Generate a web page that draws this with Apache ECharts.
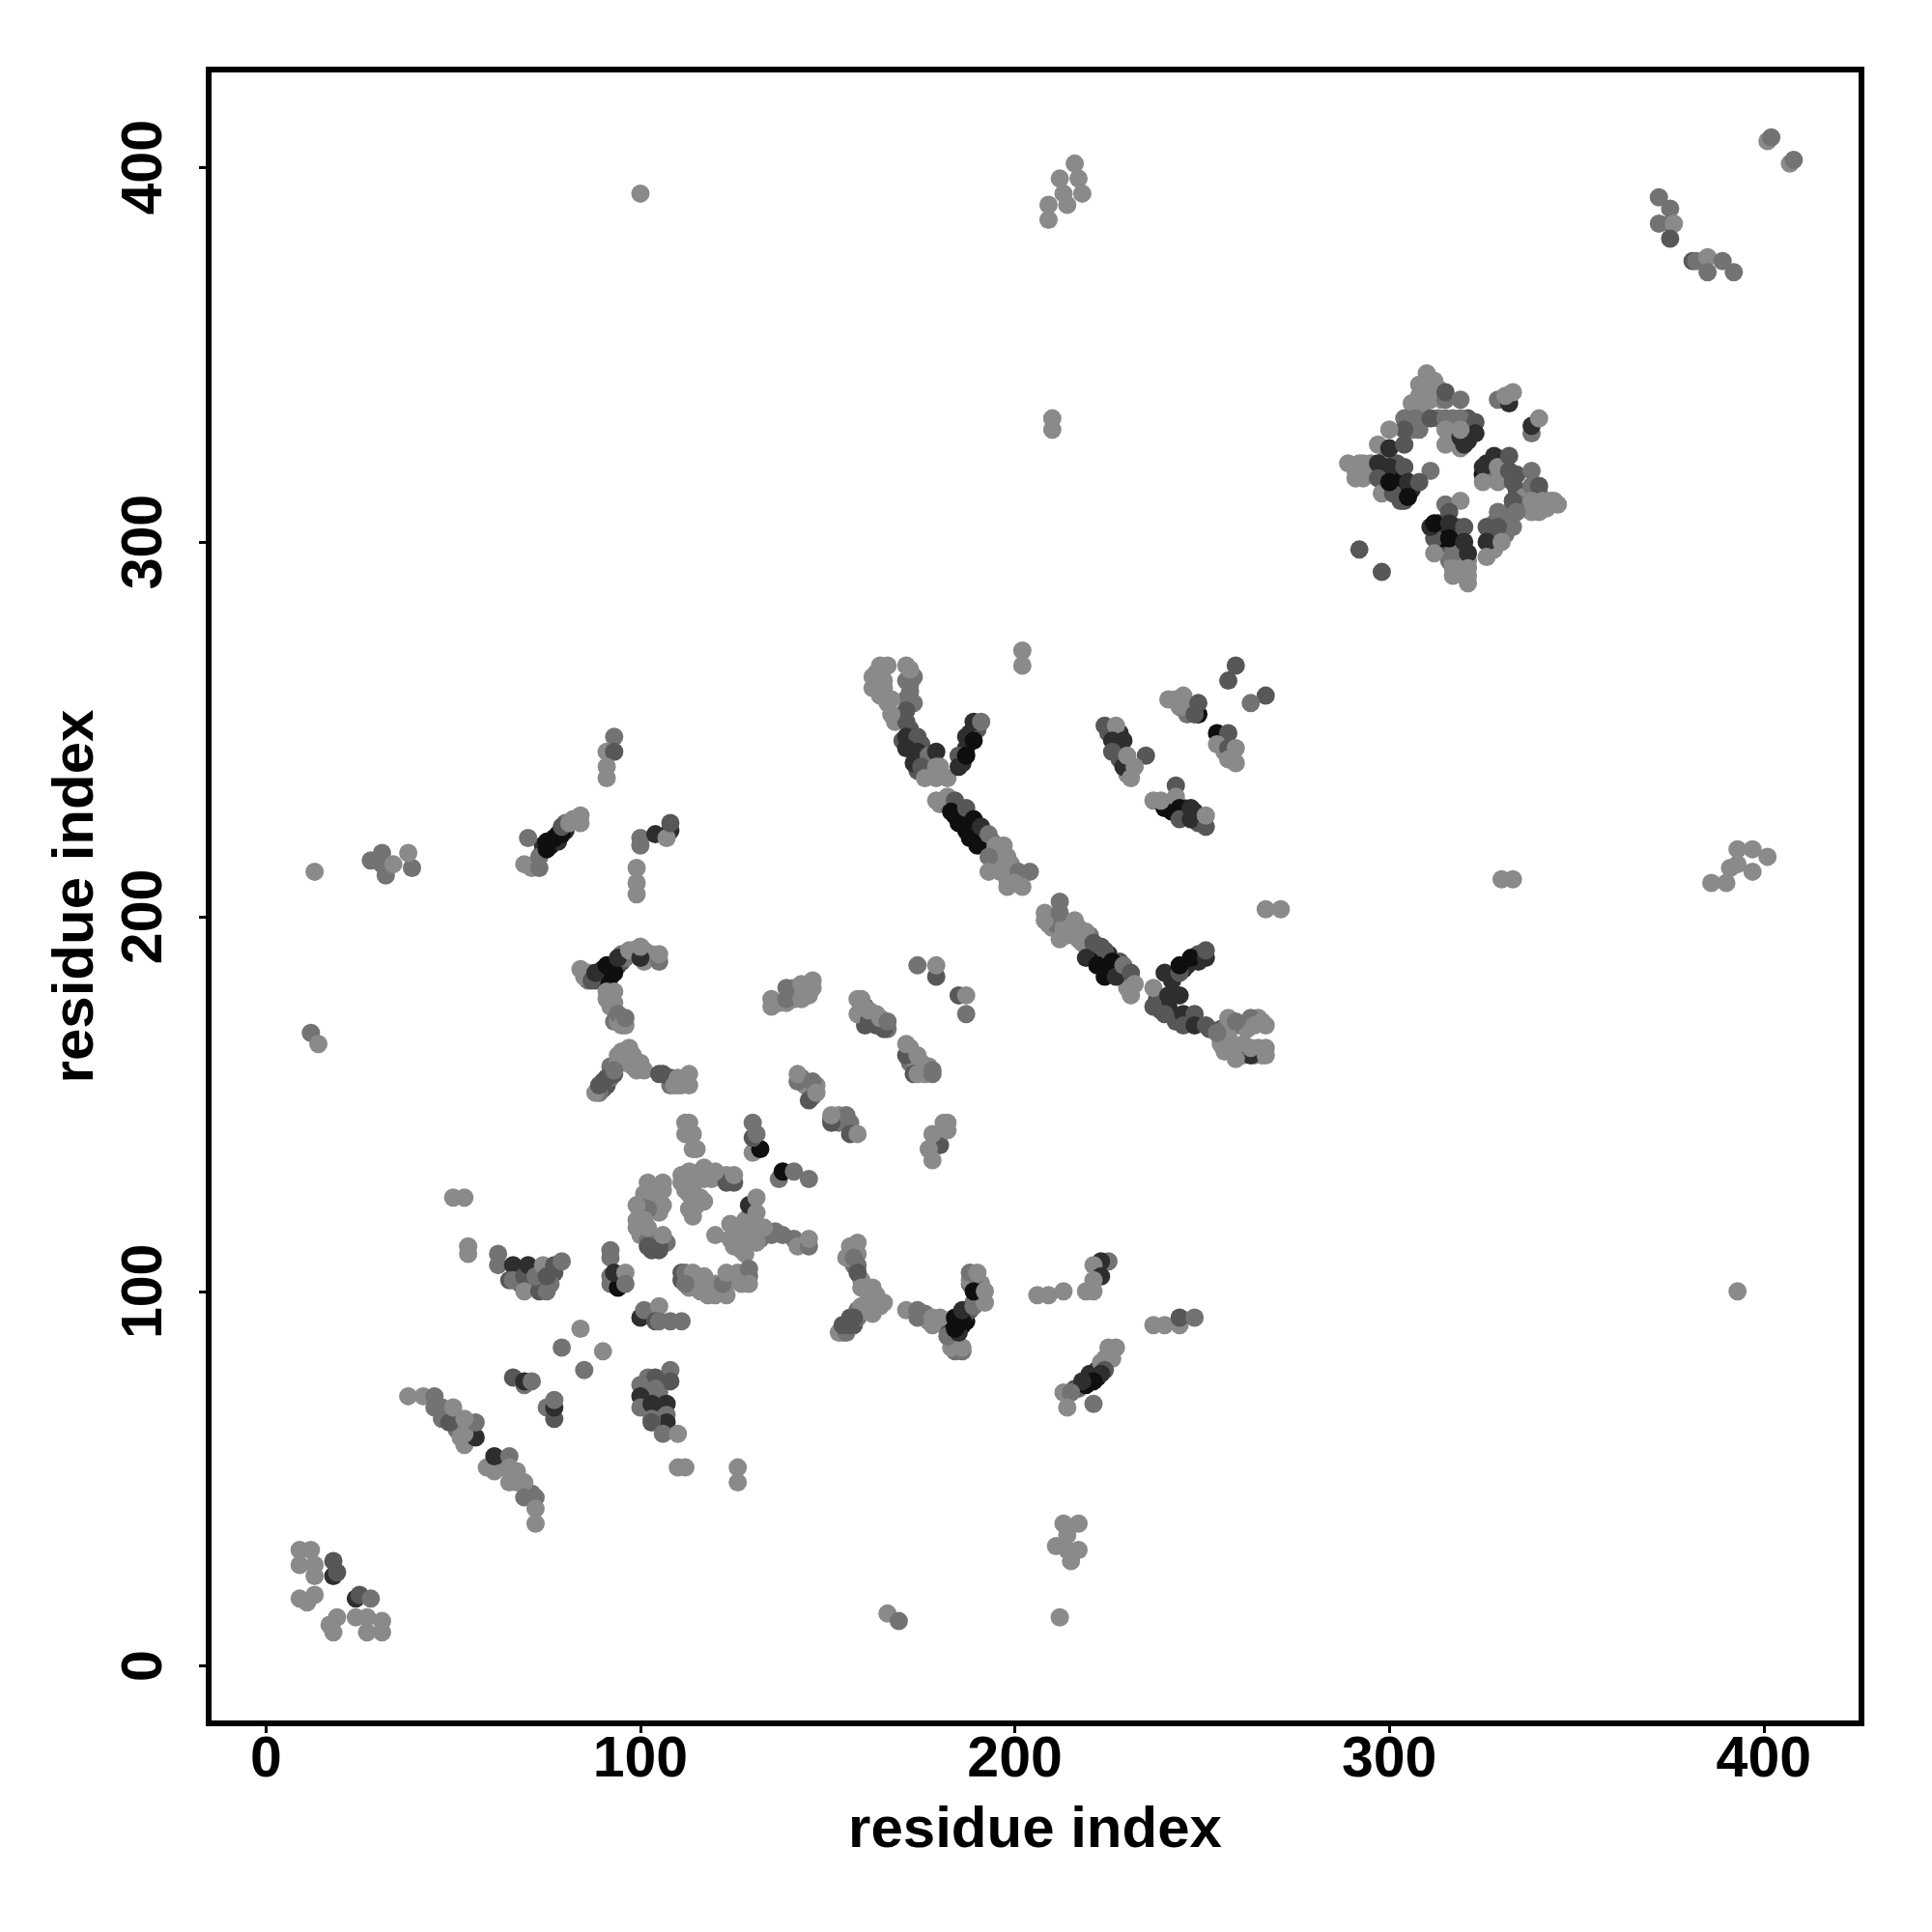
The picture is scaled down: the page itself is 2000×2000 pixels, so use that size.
<!DOCTYPE html>
<html><head><meta charset="utf-8">
<style>html,body{margin:0;padding:0;background:#fff}#c{width:2000px;height:2000px}</style>
<script src="https://cdn.jsdelivr.net/npm/echarts@6/dist/echarts.min.js"></script>
</head><body><div id="c"></div>
<script>
// each contact: [residue i, residue j, darkness level 1..5]
const tickValues=[0,100,200,300,400];
const axisTitle="residue index";
const nTermPatch=[[9,31,1],[12,31,1],[9,27,1],[13,27,1],[13,24,1],[18,28,3],[18,24,4],[19,25,3],[9,18,1],[11,17,1],[13,19,1],[24,13,1],[24,18,4],[25,19,3],[28,18,2],[19,13,1],[17,11,1],[18,9,1],[27,13,1],[31,12,1],[27,9,1],[31,9,1]];
const strip40to72=[[47,69,2],[47,66,2],[51,63,2],[54,63,2],[63,53,1],[63,55,3],[67,52,1],[67,49,1],[71,46,2],[38,72,1],[42,72,1],[45,72,2],[45,69,2],[49,65,3],[50,69,1],[53,59,1],[52,61,1],[56,61,4],[53,62,1],[56,65,2],[53,66,1],[61,52,1],[59,53,1],[61,56,4],[65,49,1],[65,56,2],[65,53,1],[69,49,1],[69,45,2],[72,45,2],[72,42,1],[72,38,1]];
const patch66to77=[[66,77,3],[69,75,2],[69,76,4],[71,76,2],[75,69,2],[77,66,3],[77,69,4],[77,71,2],[84,90,1],[79,85,2],[90,84,1],[85,79,2]];
const patch62to79=[[67,105,4],[68,102,3],[71,102,3],[70,101,2],[71,105,3],[73,105,2],[77,105,3],[76,102,2],[62,110,2],[62,107,2],[66,107,4],[65,103,3],[66,103,2],[69,104,3],[70,107,4],[69,100,1],[73,100,3],[75,100,2],[72,104,2],[74,107,1],[75,104,3],[77,107,3],[79,108,2],[50,125,1],[53,125,1],[54,112,1],[54,110,1],[110,53,1],[112,53,1],[126,53,1],[126,49,1]];
const patch100to110=[[101,72,3],[103,74,3],[105,73,2],[106,76,2],[102,77,2],[105,70,3],[105,66,2],[104,69,3],[108,79,2],[108,76,3],[104,77,3],[100,75,2],[104,74,2],[100,72,4],[100,69,2],[103,70,4],[107,70,4],[107,67,2],[107,65,4],[103,66,2],[103,65,3],[106,62,2],[110,62,1]];
const patch92to111=[[92,111,2],[92,109,2],[92,102,2],[92,104,2],[94,101,5],[93,105,4],[96,105,1],[96,102,2],[100,93,4],[101,95,2],[105,96,1],[104,92,3],[105,92,2],[108,92,2],[111,92,2]];
const centralFill=[[100,121,1],[100,123,1],[101,126,1],[103,124,2],[104,125,1],[105,121,1],[100,115,1],[102,114,2],[104,113,2],[106,113,3],[107,113,2],[103,111,3],[111,131,1],[112,130,1],[113,128,2],[115,130,1],[116,132,1],[118,131,1],[119,130,1],[121,131,1],[123,131,1],[125,129,3],[112,127,1],[113,126,1],[116,125,1],[113,122,1],[115,123,1],[128,119,1],[129,120,1],[130,118,1],[131,116,1],[128,113,1],[126,115,1],[127,117,1],[125,112,1],[128,110,1],[130,114,1],[132,114,2],[134,116,1],[135,115,2],[136,116,2],[111,103,3],[112,104,2],[113,101,1],[115,103,1],[116,100,1],[117,104,1],[120,99,1],[120,102,1],[122,100,1],[125,103,1],[127,102,1],[129,104,2]];
const central=[[112,145,1],[113,145,1],[112,142,1],[114,142,1],[114,138,1],[115,138,1],[130,137,1],[132,138,5],[130,141,3],[130,145,2],[131,142,2],[123,129,3],[125,131,1],[120,132,1],[117,133,1],[113,132,1],[111,129,1],[114,128,1],[117,130,1],[102,129,1],[106,129,1],[106,127,1],[102,127,1],[106,123,1],[102,122,2],[99,123,1],[99,119,1],[101,119,1],[99,117,1],[102,112,3],[105,111,3],[105,112,3],[102,117,1],[106,115,1],[117,124,1],[114,124,1],[114,120,1],[129,123,4],[131,125,1],[131,121,1],[132,117,1],[124,118,1],[120,115,1],[124,114,1],[129,115,1],[127,111,1],[131,113,1],[133,117,1],[138,115,2],[141,114,2],[142,112,1],[145,112,2],[145,114,1],[137,130,2],[138,132,5],[141,132,2],[145,130,2],[111,105,3],[112,105,2],[114,105,1],[112,102,2],[118,102,1],[118,99,1],[123,99,1],[122,102,2],[123,105,1],[126,105,1],[129,106,2],[129,102,1]];
const upperBeads=[[137,177,1],[141,178,1],[141,181,1],[144,181,1],[145,179,1],[160,176,2],[159,175,1],[162,173,2],[163,171,3],[166,170,2],[163,174,1],[172,165,1],[172,161,2],[173,162,1],[175,161,1],[176,160,1],[177,160,1],[176,158,1],[151,146,3],[153,147,1],[153,145,2],[155,147,2],[143,157,2],[144,155,1],[146,152,2],[147,155,1],[135,178,1],[135,176,1],[139,177,1],[139,178,2],[139,181,2],[143,178,1],[143,182,1],[146,181,1],[146,183,1],[160,171,3],[165,170,3],[158,174,1],[161,172,3],[158,178,1],[159,178,1],[161,175,1],[164,173,1],[166,172,2],[185,179,3],[187,179,1],[187,174,2],[174,187,2],[179,184,3],[179,187,1],[171,163,3],[171,166,1],[174,163,1],[173,158,3],[174,158,1],[178,158,2],[178,159,2],[142,156,2],[142,158,1],[146,156,2],[145,151,3],[147,153,1],[151,145,3],[151,147,1],[156,145,2],[156,142,3],[158,142,1],[180,139,3],[182,145,1],[181,145,1],[182,143,1],[178,142,1],[177,138,1],[178,135,1]];
const vee88to113=[[90,154,3],[91,155,3],[92,157,2],[93,158,3],[89,153,2],[92,160,2],[94,163,1],[96,163,1],[98,163,1],[98,160,1],[96,161,1],[99,159,1],[111,155,1],[112,156,1],[113,155,1],[112,157,1],[108,155,2],[108,157,3],[106,158,3],[97,165,1],[95,164,1],[94,161,1],[88,153,1],[89,155,3],[90,156,3],[91,157,3],[93,159,2],[100,161,1],[101,159,1],[105,158,3],[110,155,1],[109,155,1],[110,157,1],[113,158,1]];
const vee84to105=[[86,185,1],[86,183,2],[88,183,3],[89,184,5],[90,184,5],[90,186,4],[91,185,5],[92,186,5],[92,184,5],[93,187,4],[94,187,4],[95,188,3],[96,189,2],[95,190,2],[98,191,1],[99,191,1],[101,191,1],[101,188,1],[103,190,1],[91,180,1],[93,177,1],[92,176,1],[93,172,2],[94,172,1],[96,171,1],[84,186,1],[85,184,1],[87,183,3],[88,185,4],[91,187,5],[93,185,5],[94,189,4],[97,191,1],[100,189,4],[100,192,1],[105,188,2],[105,190,1],[93,180,1],[91,178,1],[94,174,2],[95,171,1],[96,173,2]];
const vee153to165=[[154,89,1],[155,91,3],[156,93,3],[157,91,3],[158,95,2],[158,93,2],[160,95,1],[161,96,1],[161,98,1],[163,99,1],[156,110,2],[158,110,1],[157,107,2],[159,103,1],[160,101,1],[158,107,2],[164,96,1],[162,94,1],[158,113,1],[156,112,1],[155,109,1],[157,109,2],[158,105,3],[159,101,1],[162,101,1],[165,97,1],[163,97,1],[159,96,1],[153,89,1],[155,89,2],[154,91,3],[156,91,3],[157,93,3]];
const vee171to192=[[176,94,2],[177,92,1],[181,91,2],[182,91,3],[183,89,4],[184,91,5],[185,91,5],[186,91,5],[187,92,5],[186,93,5],[187,94,4],[188,95,3],[189,97,2],[190,98,2],[191,99,1],[191,102,1],[188,102,2],[189,103,2],[188,103,1],[183,87,2],[185,85,3],[184,84,2],[171,95,1],[174,95,2],[174,93,2],[178,91,1],[178,93,1],[180,93,1],[186,84,2],[183,85,1],[186,85,1],[182,88,2],[185,89,4],[184,90,5],[186,92,5],[184,93,5],[186,95,4],[189,96,2],[192,97,1],[189,100,5],[192,100,1],[188,105,2],[190,105,1]];
const leftPatch214=[[28,215,2],[31,217,2],[32,211,2],[31,214,2],[34,214,1],[39,213,2],[38,217,1],[13,212,1],[12,169,2],[14,166,1],[166,14,1],[169,12,2],[212,13,1],[100,393,1],[393,100,1]];
const patch69to84=[[76,219,5],[78,220,4],[78,222,5],[80,223,4],[80,225,2],[82,226,1],[83,226,1],[74,218,3],[74,219,4],[72,214,2],[71,213,1],[70,221,2],[69,214,1],[73,213,2],[73,216,2],[75,218,5],[75,220,5],[77,221,5],[79,222,5],[79,224,3],[81,225,1],[84,225,1],[84,227,1]];
const column92=[[93,248,2],[91,244,1],[93,244,3],[91,240,1],[91,237,1],[100,221,2],[100,219,2],[104,222,4],[108,223,4],[107,221,1],[108,225,3],[99,213,1],[99,209,1],[99,206,1]];
const beadsNear210=[[219,76,5],[220,76,5],[220,78,4],[222,77,5],[221,78,4],[223,80,3],[224,82,1],[225,83,1],[217,74,2],[216,74,3],[222,79,4],[206,99,1],[209,99,1],[213,100,1],[225,108,2],[223,108,4],[221,107,1],[223,104,4],[221,103,1],[219,100,1],[221,100,1],[237,91,1],[240,91,1],[244,91,1],[244,93,3],[248,93,2],[227,85,1],[225,85,1],[226,82,1],[223,81,1],[224,79,3],[223,78,4],[221,76,5],[219,75,5],[218,76,4],[213,73,1],[215,73,2],[214,69,1],[221,70,2]];
const lowerMiddle=[[213,38,1],[217,38,1],[214,35,1],[211,32,1],[214,31,1],[217,31,1],[215,28,1],[216,401,1],[212,397,1],[217,397,1],[218,393,1],[213,393,1],[214,390,1],[209,390,1],[209,386,1],[401,216,1],[397,218,1],[393,218,1],[397,212,1],[391,213,1],[386,209,1],[390,209,1],[393,214,1],[210,333,1],[210,330,1],[330,210,1],[333,210,1],[267,202,1],[271,202,1],[202,271,1],[202,267,1]];
const topRight=[[372,392,2],[375,389,2],[372,385,2],[375,385,2],[376,385,1],[375,381,3],[381,375,3],[382,375,2],[385,376,1],[385,372,2],[389,375,2],[392,372,2],[401,407,1],[402,408,2],[407,401,1],[408,402,2]];
const armUpperLeft=[[172,250,3],[170,247,3],[172,246,4],[175,246,3],[175,243,4],[176,241,3],[177,240,4],[178,238,2],[178,241,3],[174,239,3],[180,238,2],[168,252,1],[170,254,2],[171,258,2],[172,262,2],[173,264,2],[163,265,1],[163,262,1],[165,261,1],[167,258,1],[187,245,4],[188,249,4],[190,250,3],[186,241,4],[171,263,2],[172,260,2],[173,257,2],[171,255,3],[171,252,3],[171,248,4],[174,248,3],[171,245,4],[174,244,4],[173,241,4],[164,267,1],[166,267,1],[171,267,1],[172,266,1],[162,264,1],[165,263,1],[162,261,1],[164,259,1],[166,257,1],[167,254,1],[177,243,2],[179,244,4],[175,240,3],[176,237,1],[179,237,1],[179,240,1],[180,240,1],[182,237,1],[185,243,3],[185,240,4],[187,243,5],[187,248,4],[189,247,5],[189,252,4],[191,252,2]];
const helixUpper=[[180,230,1],[182,230,2],[183,230,3],[185,229,3],[184,227,5],[186,227,4],[186,226,5],[187,225,4],[187,223,5],[189,224,4],[188,224,5],[189,222,5],[190,222,4],[191,221,4],[190,221,5],[192,220,3],[193,219,2],[194,220,2],[195,217,1],[196,216,1],[197,215,1],[199,214,1],[195,214,1],[196,212,1],[199,210,1],[200,211,1],[198,210,1],[179,231,1],[182,232,1],[184,231,3],[183,228,5],[185,225,5],[187,229,3],[189,226,5],[188,221,5],[190,219,5],[191,224,4],[193,222,2],[195,219,1],[197,219,1],[193,216,2],[198,216,1],[193,212,1],[197,212,1],[201,212,2],[204,212,2],[198,208,1],[200,209,1],[202,208,1]];
const helixLower=[[209,200,1],[209,198,1],[210,197,1],[211,198,2],[213,197,1],[214,195,1],[215,197,1],[217,197,1],[217,194,1],[220,195,2],[220,192,3],[221,191,4],[222,190,4],[223,189,5],[223,192,3],[225,190,4],[225,187,5],[226,186,5],[228,186,3],[228,184,4],[229,185,4],[230,183,2],[230,181,1],[228,188,3],[208,199,1],[208,201,1],[212,204,2],[212,201,2],[212,194,1],[216,199,1],[219,196,1],[218,193,1],[221,193,3],[224,191,3],[219,189,4],[222,187,5],[226,188,5],[224,184,5],[227,184,4],[229,187,2],[231,185,3],[231,179,1],[232,182,1]];
const armRight=[[238,178,3],[239,175,3],[241,176,4],[242,174,4],[243,172,3],[246,172,4],[242,183,4],[245,186,5],[246,187,4],[249,188,4],[249,190,3],[252,170,3],[255,170,3],[255,167,1],[256,170,2],[258,171,1],[260,171,2],[262,170,1],[258,165,1],[261,163,1],[261,166,1],[264,163,1],[265,165,1],[266,163,1],[255,166,1],[257,168,1],[265,173,1],[267,171,1],[237,176,3],[237,181,1],[240,174,3],[241,179,4],[244,179,4],[240,185,4],[244,185,3],[244,187,5],[247,189,5],[251,189,4],[251,191,3],[245,174,4],[248,174,3],[245,171,3],[248,171,4],[251,171,3],[254,169,2],[257,173,1],[259,172,2],[263,173,2],[264,171,1],[266,172,1],[263,163,4],[256,164,1],[259,162,1],[263,165,1],[267,165,1],[267,163,1]];
const patch224to259=[[225,249,3],[228,249,4],[227,245,4],[228,242,3],[230,238,1],[231,239,1],[243,229,2],[241,230,5],[242,228,5],[245,227,3],[245,229,4],[248,228,4],[249,225,3],[250,226,3],[255,247,5],[256,248,4],[256,244,1],[258,243,1],[243,258,1],[244,256,1],[246,254,2],[248,256,2],[224,251,3],[227,251,1],[226,247,4],[229,247,4],[226,244,3],[235,243,3],[229,240,4],[230,243,1],[232,240,1],[231,237,1],[241,258,1],[245,259,1],[245,256,1],[249,254,5],[248,254,3],[249,257,3],[259,267,3],[257,263,3],[267,259,3],[263,257,2],[254,249,5],[257,249,3],[254,246,1],[257,245,3],[257,242,1],[259,245,1],[259,241,1],[237,231,1],[240,229,5],[239,231,1],[243,235,3],[243,232,1],[244,229,5],[244,226,3],[247,229,4],[247,226,4],[251,224,3],[251,227,1]];
const pentagonFill=[[310,342,1],[309,340,1],[311,340,1],[313,341,1],[314,338,1],[309,337,1],[306,337,1],[305,332,2],[306,330,2],[309,334,1],[313,333,2],[317,333,2],[321,333,3],[317,327,1],[321,327,4],[321,331,3],[299,322,2],[298,319,4],[299,316,4],[299,315,5],[301,318,4],[302,321,3],[302,314,5],[303,318,5],[306,314,4],[304,313,5],[303,311,3],[291,319,1],[295,318,1],[295,321,1],[325,318,5],[326,321,4],[327,319,2],[330,322,3],[331,317,1],[331,320,2],[334,318,3],[334,314,3],[336,312,1],[336,309,1],[339,309,1],[342,309,1],[344,311,1],[340,313,2],[327,302,3],[328,305,2],[331,306,2],[332,308,2],[335,310,2],[331,302,2],[328,298,1],[314,303,5],[313,299,3],[314,301,5],[316,303,5],[318,301,5],[318,304,3],[319,298,5],[316,295,2],[321,295,1],[317,294,1],[321,291,1],[313,305,4],[315,310,2]];
const pentagonTop=[[310,345,1],[312,343,1],[308,342,1],[308,339,1],[311,338,1],[315,338,2],[315,340,3],[319,338,2],[304,333,2],[307,333,2],[308,330,2],[311,333,3],[315,333,2],[319,333,2],[323,332,3],[304,330,3],[300,330,1],[297,326,1],[300,325,4],[304,326,3],[315,326,1],[315,330,1],[319,325,1],[320,326,4],[319,328,4],[323,329,4],[319,330,1],[329,338,2],[332,337,4],[331,339,1],[333,340,1],[338,329,2],[338,331,4],[340,333,1]];
const pentagonLeft=[[289,321,1],[292,321,1],[293,321,1],[291,317,1],[293,317,1],[297,321,4],[300,320,4],[304,320,3],[311,319,2],[297,317,3],[298,313,1],[301,313,3],[300,316,5],[305,316,4],[308,316,3],[304,311,3],[305,312,5],[292,298,3],[298,292,3]];
const pentagonRight=[[325,320,4],[325,316,1],[328,323,4],[329,320,1],[329,316,1],[332,323,3],[332,319,3],[333,316,3],[338,319,2],[338,315,2],[340,315,3],[338,311,1],[338,308,1],[341,311,1],[340,308,1],[343,311,1],[345,310,1],[333,311,3],[334,308,2],[329,308,2],[333,304,2],[329,304,3],[326,304,3],[326,300,4],[330,300,1],[326,296,1]];
const pentagonBottom=[[319,311,1],[316,308,3],[312,301,3],[311,304,4],[312,305,5],[316,305,4],[320,304,3],[317,297,2],[316,301,5],[320,300,4],[312,297,1],[321,297,4],[317,293,1],[321,293,1],[317,291,1],[321,289,1]];

const contacts=[].concat(nTermPatch,strip40to72,patch66to77,patch62to79,patch100to110,patch92to111,centralFill,central,upperBeads,vee88to113,vee84to105,vee153to165,vee171to192,leftPatch214,patch69to84,column92,beadsNear210,lowerMiddle,topRight,armUpperLeft,helixUpper,helixLower,armRight,patch224to259,pentagonFill,pentagonTop,pentagonLeft,pentagonRight,pentagonBottom);
const greys=['','#8a8a8a','#737373','#575757','#2e2e2e','#0f0f0f'];
const font='"Liberation Sans", Arial, sans-serif';
function axis(extra){return Object.assign({type:'value',min:-15.3,max:426.1,name:axisTitle,nameLocation:'middle',
  nameTextStyle:{fontFamily:font,fontWeight:'bold',fontSize:60,color:'#000'},
  splitLine:{show:false},axisLine:{show:false,onZero:false},
  axisTick:{show:true,length:10,inside:false,customValues:tickValues,lineStyle:{color:'#000',width:3}}},extra);}
const chart=echarts.init(document.getElementById('c'),null,{renderer:'canvas'});
chart.setOption({animation:false,backgroundColor:'#fff',
  grid:{show:true,left:216,right:73,top:72,bottom:216,borderColor:'#000',borderWidth:6,backgroundColor:'#fff'},
  xAxis:axis({nameGap:81,axisLabel:{customValues:tickValues,fontFamily:font,fontWeight:'bold',fontSize:59,color:'#000',margin:9}}),
  yAxis:axis({nameGap:107,axisLabel:{customValues:tickValues,rotate:90,fontFamily:font,fontWeight:'bold',fontSize:59,color:'#000',margin:36}}),
  series:[{type:'scatter',data:contacts,symbol:'circle',symbolSize:19,
    itemStyle:{opacity:1,color:p=>greys[p.value[2]]}}]});
</script></body></html>
